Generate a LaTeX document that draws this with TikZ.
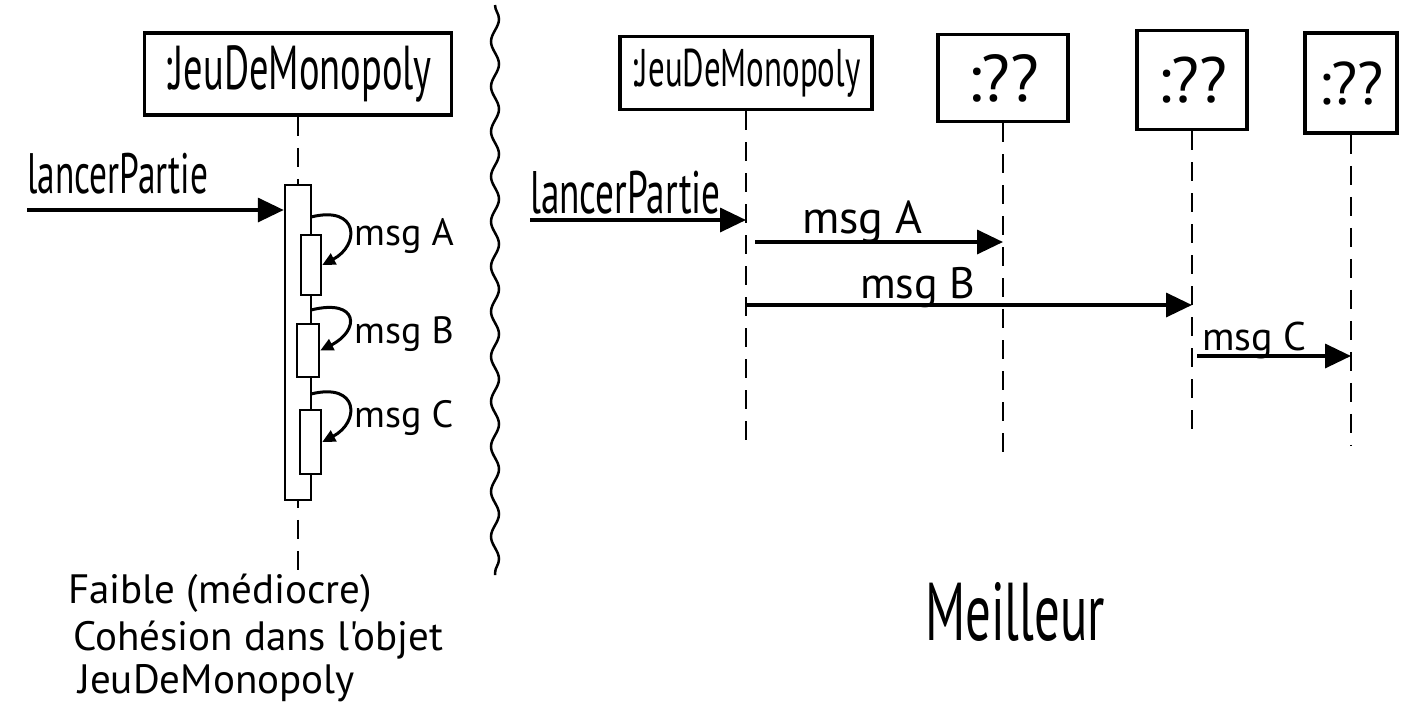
\documentclass[tikz,border=0pt]{standalone}
\usepackage{fontspec}
\newfontfamily\hand{PT Sans}
\newfontfamily\handn[FakeStretch=0.62]{PT Sans}
\usetikzlibrary{arrows.meta,decorations.pathmorphing}

\begin{document}
\begin{tikzpicture}[%
    x = 1pt, y = -1pt,
    obj/.style = {draw, line width = 3.5pt, inner sep = 0pt},
    act/.style = {draw, line width = 2.5pt, fill = white, inner sep = 0pt},
    life/.style = {line width = 2.5pt, dash pattern = on 19pt off 12pt},
    msg/.style = {line width = 3.5pt, -{Triangle[length = 26pt, width = 24pt]}},
    self/.style = {line width = 3pt, -{Triangle[length = 13pt, width = 12pt]}},
    lbl/.style = {anchor = base west, inner sep = 0pt}]

    \useasboundingbox (0, 0) rectangle (1420, 713);

    % left: everything inside one object
    \node[obj, minimum width = 307pt, minimum height = 82pt, font = \handn\fontsize{62}{62}\selectfont] (jmL) at (298, 74) {:JeuDeMonopoly};
    \coordinate (jmLend) at (298, 570);
    \draw[life] (jmL) -- (jmLend);
    \node[act, minimum width = 26pt, minimum height = 315pt] (act) at (298, 342.5) {};
    \node[act, minimum width = 20pt, minimum height = 60pt] (actA) at (311, 265) {};
    \node[act, minimum width = 22pt, minimum height = 53pt] (actB) at (308, 350.5) {};
    \node[act, minimum width = 21pt, minimum height = 64pt] (actC) at (310.5, 442) {};

    \coordinate (callL) at (27, 210);
    \node[lbl, font = \handn\fontsize{57}{57}\selectfont] (lpL) at (27, 193) {lancerPartie};
    \draw[msg] (callL) -- (callL -| act.west);

    \coordinate (sA) at (311, 217);
    \coordinate (sB) at (311, 310);
    \coordinate (sC) at (311, 394);
    \draw[self] (sA) .. controls +(48, -12) and +(38, -20) .. (actA.east);
    \draw[self] (sB) .. controls +(48, -12) and +(40, -20) .. (actB.east);
    \draw[self] (sC) .. controls +(48, -12) and +(38, -20) .. (actC.east);
    \node[lbl, font = \hand\fontsize{38}{38}\selectfont] (mAL) at (354, 245) {msg A};
    \node[lbl, font = \hand\fontsize{38}{38}\selectfont] (mBL) at (354, 343) {msg B};
    \node[lbl, font = \hand\fontsize{38}{38}\selectfont] (mCL) at (354, 427) {msg C};

    \node[lbl, font = \hand\fontsize{41}{41}\selectfont] (note1) at (68, 603) {Faible (médiocre)};
    \node[lbl, font = \hand\fontsize{41}{41}\selectfont] (note2) at (73, 650) {Cohésion dans l'objet};
    \node[lbl, font = \hand\fontsize{41}{41}\selectfont] (note3) at (78, 693) {JeuDeMonopoly};

    % separator
    \coordinate (sepTop) at (495, 5);
    \coordinate (sepBot) at (495, 575);
    \draw[line width = 2.5pt, decorate, decoration = {snake, amplitude = 4pt, segment length = 45pt}] (sepTop) -- (sepBot);

    % right: work handed to other objects
    \node[obj, minimum width = 252pt, minimum height = 73pt, font = \handn\fontsize{53}{53}\selectfont] (jmR) at (746, 73) {:JeuDeMonopoly};
    \node[obj, minimum width = 130pt, minimum height = 87pt, font = \hand\fontsize{66}{66}\selectfont] (qa) at (1003, 78) {:??};
    \node[obj, minimum width = 110pt, minimum height = 99pt, font = \hand\fontsize{64}{64}\selectfont] (qb) at (1192, 80) {:??};
    \node[obj, minimum width = 92pt, minimum height = 100pt, font = \hand\fontsize{60}{60}\selectfont] (qc) at (1351, 83) {:??};

    \coordinate (jmRend) at (746, 445);
    \coordinate (qaend) at (1003, 460);
    \coordinate (qbend) at (1192, 435);
    \coordinate (qcend) at (1351, 445);
    \draw[life] (jmR) -- (jmRend);
    \draw[life] (qa) -- (qaend);
    \draw[life] (qb) -- (qbend);
    \draw[life] (qc) -- (qcend);

    \coordinate (rowL) at (530, 220);
    \coordinate (rowA) at (0, 242);
    \coordinate (rowB) at (0, 305);
    \coordinate (rowC) at (0, 356);
    \draw[msg] (rowL) -- (rowL -| jmR);
    \draw[msg, shorten <= 9pt] (jmR |- rowA) -- (qa |- rowA);
    \draw[msg] (jmR |- rowB) -- (qb |- rowB);
    \draw[msg, shorten <= 5pt] (qb |- rowC) -- (qc |- rowC);

    \node[lbl, font = \handn\fontsize{60}{60}\selectfont] (lpR) at (530, 213) {lancerPartie};
    \node[lbl, font = \hand\fontsize{46}{46}\selectfont] (mAR) at (802, 233) {msg A};
    \node[lbl, font = \hand\fontsize{44}{44}\selectfont] (mBR) at (860, 298) {msg B};
    \node[lbl, font = \hand\fontsize{40}{40}\selectfont] (mCR) at (1202, 350) {msg C};

    \node[lbl, font = \handn\fontsize{82}{82}\selectfont] (best) at (925, 640) {Meilleur};
\end{tikzpicture}
\end{document}
